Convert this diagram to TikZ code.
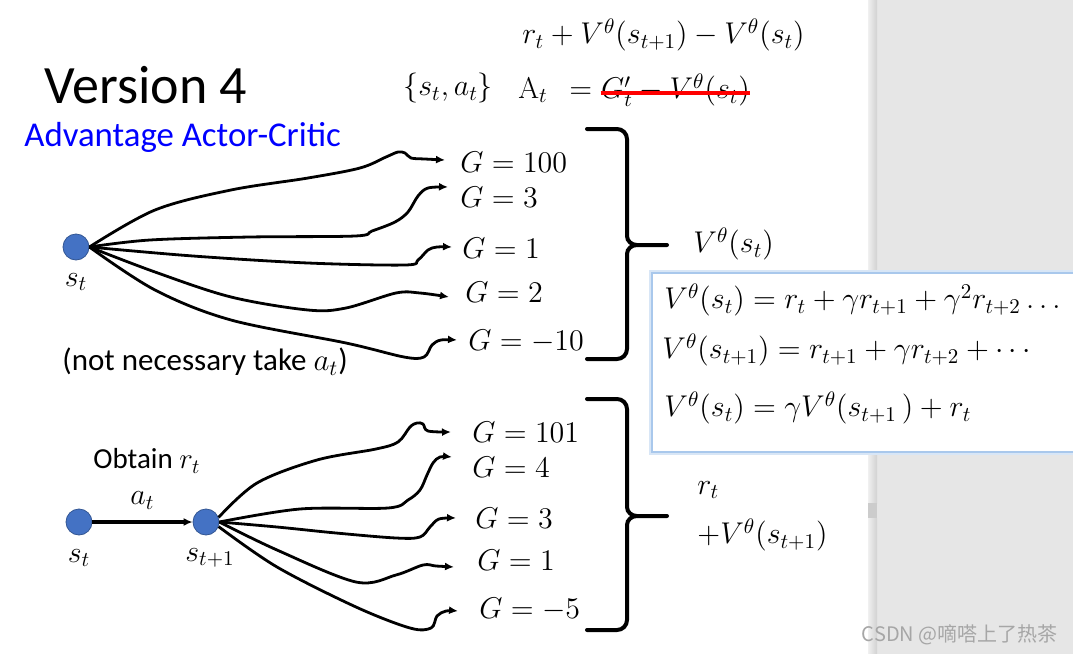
\RequirePackage{fix-cm}
\documentclass[tikz,border=0pt]{standalone}
\usepackage{amsmath}
\usepackage{fontspec}
\newfontfamily\calibri{Carlito}
\newfontfamily\cjk{Noto Sans CJK SC}
\usetikzlibrary{arrows.meta}
\definecolor{stateblue}{HTML}{4472C4}
\definecolor{panelgray}{HTML}{E6E6E6}
\definecolor{glowblue}{HTML}{A9C8EC}
\tikzset{
	state/.style   = {circle, fill=stateblue, draw=stateblue!75!black, line width=0.4pt,
		minimum size=13pt, inner sep=0pt},
	ret/.style     = {anchor=west, inner sep=0pt, font=\fontsize{15}{18}\selectfont},
	eqn/.style     = {anchor=west, inner sep=0pt, font=\fontsize{15}{18}\selectfont},
	words/.style   = {anchor=west, inner sep=0pt, font=\calibri\fontsize{15.5}{19}\selectfont},
	traj/.style    = {->, line width=1.4pt, smooth, tension=0.55},
	bracket/.style = {line width=2pt, line cap=round}
}
% right brace: top y, tip y, bottom y
\newcommand{\gbrace}[3]{%
	\draw[bracket] (587,#1) -- (617,#1) to[out=0,in=90] (627,#1+10) -- (627,#2-9)
		to[out=-90,in=180] (637,#2) -- (667,#2);
	\draw[bracket] (587,#3) -- (617,#3) to[out=0,in=-90] (627,#3-10) -- (627,#2+9)
		to[out=90,in=180] (637,#2);}

\begin{document}
\begin{tikzpicture}[x=0.5pt, y=-0.5pt, >={Latex[length=4.5pt,width=4pt]}]
	\useasboundingbox (0,0) rectangle (1073,654);
	\clip (0,0) rectangle (1073,654);
	% window background
	\fill[white] (0,0) rectangle (868,654);
	\fill[panelgray] (877,0) rectangle (1073,654);
	\shade[left color=white!94!black, right color=white!82!black] (868,0) rectangle (877,503);
	\fill[white!80!black] (868,503) rectangle (877,518);
	\shade[left color=white!94!black, right color=white!82!black] (868,518) rectangle (877,654);
	
	% titles
	\node[anchor=west, inner sep=0pt, font=\calibri\fontsize{27}{32}\selectfont] (title) at (44,85) {Version 4};
	\node[anchor=west, inner sep=0pt, text=blue, font=\calibri\fontsize{17.4}{20}\selectfont] (sub) at (24,137) {Advantage Actor-Critic};
	
	% advantage
	\node[eqn] (td) at (522,35) {$r_t + V^{\theta}(s_{t+1}) - V^{\theta}(s_t)$};
	\node[eqn] (sa) at (403,88) {$\{s_t, a_t\}$};
	\node[eqn] (aeq) at (518,90) {$\mathrm{A}_t\;\,=$};
	\node[eqn] (gvs) at ([xshift=4pt]aeq.east) {$G_t' - V^{\theta}(s_t)$};
	\draw[red, line width=2pt] ([yshift=-1.5pt]gvs.west) -- ([yshift=-1.5pt]gvs.east);
	
	% first state and its returns
	\node[state] (st) at (76,247) {};
	\node[eqn, anchor=center] (stl) at (76,282) {$s_t$};
	\node[ret] (g100) at (460,162) {$G = 100$};
	\node[ret] (g3) at (460,197) {$G = 3$};
	\node[ret] (g1) at (462,248) {$G = 1$};
	\node[ret] (g2) at (465,292) {$G = 2$};
	\node[ret] (gm10) at (468,341) {$G = -10$};
	\coordinate (e100) at ([shift={(-15,-2)}]g100.west);
	\coordinate (e3) at ([shift={(-12,-10)}]g3.west);
	\coordinate (e1) at ([shift={(-10,-1)}]g1.west);
	\coordinate (e2) at ([shift={(-16,5)}]g2.west);
	\coordinate (em10) at ([shift={(-11,-1)}]gm10.west);
	\draw[traj] plot coordinates {(st.east) (155,210) (231,190) (308,178) (360,168) (386,157) (398,152)
		(405,153) (411,158) (425,159) (e100)};
	\draw[traj] plot coordinates {(st.east) (150,240) (250,237) (355,236) (372,231) (395,222) (408,212)
		(418,196) (428,188) (e3)};
	\draw[traj] plot coordinates {(st.east) (193,256) (308,263) (405,265) (418,260) (428,250) (437,247) (e1)};
	\draw[traj] plot coordinates {(st.east) (155,272) (231,297) (308,310) (346,308) (396,293) (420,293) (e2)};
	\draw[traj] plot coordinates {(st.east) (155,290) (231,320) (346,343) (404,357) (424,357) (432,345)
		(441,340) (em10)};
	\node[words] (note) at (62,362) {(not necessary take $a_t$)};
	\gbrace{129}{245}{359}
	\node[eqn] (vs) at (693,244) {$V^{\theta}(s_t)$};
	
	% second case: one step then returns
	\node[state] (s0) at (79,522) {};
	\node[state] (s1) at (206,522) {};
	\node[eqn, anchor=center] (s0l) at (79,558) {$s_t$};
	\node[eqn, anchor=center] (s1l) at (210,558) {$s_{t+1}$};
	\draw[->, line width=2pt] (s0) -- node[above=2pt, font=\fontsize{15}{18}\selectfont] (act) {$a_t$} (s1);
	\node[words, anchor=center, font=\calibri\fontsize{14.5}{18}\selectfont] (obt) at (147,461) {Obtain $r_t$};
	\node[ret] (g101) at (472,432) {$G = 101$};
	\node[ret] (g4) at (472,467) {$G = 4$};
	\node[ret] (g3b) at (475,518) {$G = 3$};
	\node[ret] (g1b) at (477,560) {$G = 1$};
	\node[ret] (gm5) at (479,609) {$G = -5$};
	\coordinate (e101) at ([shift={(-21,0)}]g101.west);
	\coordinate (e4) at ([shift={(-20,-10)}]g4.west);
	\coordinate (e3b) at ([shift={(-19,0)}]g3b.west);
	\coordinate (e1b) at ([shift={(-23,7)}]g1b.west);
	\coordinate (em5) at ([shift={(-21,2)}]gm5.west);
	\draw[traj] plot coordinates {(s1.20) (257,483) (317,460) (376,449) (398,442) (410,427) (417,423)
		(423,424) (428,431) (e101)};
	\draw[traj] plot coordinates {(s1.east) (300,509) (388,508) (408,500) (420,490) (427,475) (433,463)
		(440,457) (e4)};
	\draw[traj] plot coordinates {(s1.east) (277,527) (336,533) (396,538) (420,537) (430,527) (439,519) (e3b)};
	\draw[traj] plot coordinates {(s1.east) (277,550) (356,582) (396,575) (423,565) (436,566) (e1b)};
	\draw[traj] plot coordinates {(s1.-20) (277,567) (356,607) (410,628) (431,628) (437,616) (446,611) (em5)};
	\gbrace{399}{516}{630}
	\node[eqn] (rt) at (697,490) {$r_t$};
	\node[eqn] (rv) at (697,535) {$+V^{\theta}(s_{t+1})$};
	
	% equation box
	\draw[line width=3pt, glowblue!45] (652,273) rectangle (1090,452);
	\draw[line width=0.8pt, glowblue, fill=white] (652,273) rectangle (1090,452);
	\node[eqn] (q1) at (664,300) {$V^{\theta}(s_t) = r_t + \gamma r_{t+1} + \gamma^2 r_{t+2} \ldots$};
	\node[eqn] (q2) at (662,350) {$V^{\theta}(s_{t+1}) = r_{t+1} + \gamma r_{t+2} + \cdots$};
	\node[eqn] (q3) at (664,408) {$V^{\theta}(s_t) = \gamma V^{\theta}(s_{t+1}\,) + r_t$};
	
	\node[anchor=east, inner sep=0pt, text=black!35, font=\cjk\fontsize{10}{12}\selectfont] (mark) at (1058,635) {CSDN @嘀嗒上了热茶};
\end{tikzpicture}
\end{document}
